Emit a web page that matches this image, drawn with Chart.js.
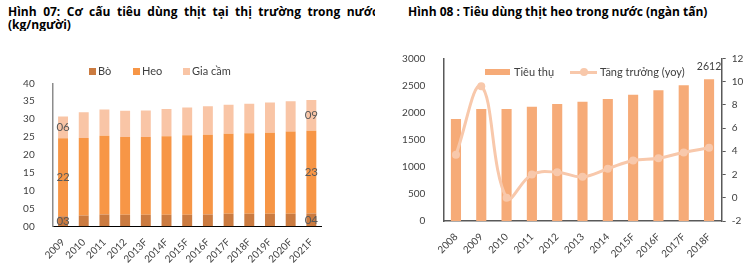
<!DOCTYPE html>
<html>
<head>
<meta charset="utf-8">
<script src="https://cdn.jsdelivr.net/npm/chart.js@4.4.1/dist/chart.umd.min.js"></script>
<style>
body { margin: 0; width: 751px; height: 269px; background: #fff; position: relative; overflow: hidden; font-family: 'Open Sans', sans-serif; }
.title { position: absolute; font-weight: bold; font-size: 12px; line-height: 13px; color: #000; white-space: nowrap; }
#t1 { left: 8px; top: 5px; width: 367px; overflow: hidden; word-spacing: 3.4px; }
#t2 { left: 408px; top: 5px; }
canvas { position: absolute; }
#c1 { left: 0; top: 60px; }
#c2 { left: 375px; top: 40px; }
.lg { position: absolute; font-family: Lato, sans-serif; font-size: 11px; line-height: 14px; color: #404040; white-space: nowrap; }
.sw { position: absolute; }
</style>
</head>
<body>
<div class="title" id="t1">Hình 07: Cơ cấu tiêu dùng thịt tại thị trường trong nước<br>(kg/người)</div>
<div class="title" id="t2">Hình 08 : Tiêu dùng thịt heo trong nước (ngàn tấn)</div>

<canvas id="c1" width="375" height="209"></canvas>
<canvas id="c2" width="376" height="229"></canvas>

<!-- legend hinh 07 -->
<div class="sw" style="left:89px;top:68px;width:7px;height:7px;background:#cb7b40"></div>
<div class="lg" style="left:98px;top:64px">Bò</div>
<div class="sw" style="left:133px;top:68px;width:7px;height:7px;background:#f79646"></div>
<div class="lg" style="left:142px;top:64px">Heo</div>
<div class="sw" style="left:183px;top:68px;width:7px;height:7px;background:#f9c5a6"></div>
<div class="lg" style="left:192px;top:64px">Gia cầm</div>

<!-- legend hinh 08 -->
<div class="sw" style="left:485px;top:69px;width:25px;height:6px;background:#f6ab78"></div>
<div class="lg" style="left:514px;top:65px">Tiêu thụ</div>
<div class="sw" style="left:570px;top:70.5px;width:27px;height:3px;background:#f8c8ab"></div>
<div class="sw" style="left:579.5px;top:68px;width:8px;height:8px;border-radius:50%;background:#f8c8ab"></div>
<div class="lg" style="left:600px;top:65px">Tăng trưởng (yoy)</div>

<script>
Chart.defaults.font.family = 'Lato'
Chart.defaults.font.size = 10
Chart.defaults.color = '#404040'

// Hinh 07
const nam1 = ['2009', '2010', '2011', '2012', '2013F', '2014F', '2015F', '2016F', '2017F', '2018F', '2019F', '2020F', '2021F']
const bo = [2.8, 3.0, 3.3, 3.2, 3.2, 3.2, 3.2, 3.3, 3.5, 3.5, 3.5, 3.5, 3.6]
const heo = [21.8, 21.7, 22.0, 21.8, 21.8, 22.0, 22.3, 22.3, 22.4, 22.5, 22.7, 23.0, 23.1]
const giaCam = [6.1, 7.2, 7.4, 7.3, 7.4, 7.6, 7.7, 8.0, 8.1, 8.3, 8.4, 8.5, 8.6]
const nhanCot = [0, 12]   // cot co nhan so lieu

// Hinh 08
const nam2 = ['2008', '2009', '2010', '2011', '2012', '2013', '2014', '2015F', '2016F', '2017F', '2018F']
const tieuThu = [1880, 2065, 2065, 2108, 2157, 2200, 2250, 2329, 2410, 2502, 2612]
const tangTruong = [3.7, 9.6, 0.0, 2.0, 2.2, 1.8, 2.5, 3.2, 3.4, 3.9, 4.3]

const pad2 = v => String(Math.round(v)).padStart(2, '0')

const nhanPlugin = {
    id: 'nhan',
    afterDatasetsDraw(chart) {
        const ctx = chart.ctx
        ctx.save()
        ctx.font = '11.5px Lato'
        ctx.fillStyle = '#595959'
        ctx.textAlign = 'center'
        ctx.textBaseline = 'middle'
        chart.data.datasets.forEach((ds, d) => {
            const meta = chart.getDatasetMeta(d)
            nhanCot.forEach(i => {
                const el = meta.data[i]
                ctx.fillText(pad2(ds.data[i]), el.x, (el.y + el.base) / 2)
            })
        })
        ctx.restore()
    }
}

new Chart(document.getElementById('c1'), {
    type: 'bar',
    data: {
        labels: nam1,
        datasets: [
            { label: 'Bò', data: bo, backgroundColor: '#cb7b40' },
            { label: 'Heo', data: heo, backgroundColor: '#f79646' },
            { label: 'Gia cầm', data: giaCam, backgroundColor: '#f9c5a6' }
        ]
    },
    options: {
        responsive: false,
        animation: false,
        devicePixelRatio: 1,
        layout: { padding: { top: 23.3, right: 53.3, left: 0, bottom: 0 } },
        datasets: { bar: { categoryPercentage: 1, barPercentage: 0.48 } },
        plugins: { legend: { display: false }, tooltip: { enabled: false } },
        scales: {
            x: {
                stacked: true,
                grid: { display: false },
                border: { color: '#000', width: 1 },
                ticks: { minRotation: 45, maxRotation: 45, autoSkip: false, padding: 2 },
                afterFit: s => { s.height = 42.7 }
            },
            y: {
                stacked: true,
                min: 0, max: 40,
                grid: { display: false },
                border: { color: '#8c8c8c', width: 1.5 },
                ticks: { stepSize: 5, padding: 10, callback: v => pad2(v) },
                afterFit: s => { s.width = 52.7 }
            }
        }
    },
    plugins: [nhanPlugin]
})

const nhanCuoi = {
    id: 'nhanCuoi',
    afterDatasetsDraw(chart) {
        const meta = chart.getDatasetMeta(1)
        const i = tieuThu.length - 1
        const el = meta.data[i]
        const ctx = chart.ctx
        ctx.save()
        ctx.font = '10.5px Lato'
        ctx.fillStyle = '#404040'
        ctx.textAlign = 'center'
        ctx.textBaseline = 'alphabetic'
        ctx.fillText(String(tieuThu[i]), el.x, el.y - 9)
        ctx.restore()
    }
}

new Chart(document.getElementById('c2'), {
    type: 'bar',
    data: {
        labels: nam2,
        datasets: [
            {
                type: 'line', label: 'Tăng trưởng (yoy)', data: tangTruong, yAxisID: 'y1', order: 0,
                borderColor: '#f8c8ab', borderWidth: 3, tension: 0.4,
                pointRadius: 4, pointBackgroundColor: '#f8c8ab', pointBorderWidth: 0
            },
            {
                label: 'Tiêu thụ', data: tieuThu, yAxisID: 'y', order: 1,
                backgroundColor: '#f6ab78', categoryPercentage: 1, barPercentage: 0.4
            }
        ]
    },
    options: {
        responsive: false,
        animation: false,
        devicePixelRatio: 1,
        layout: { padding: { top: 18.3, right: 0, left: 0, bottom: 0 } },
        plugins: { legend: { display: false }, tooltip: { enabled: false } },
        scales: {
            x: {
                grid: { display: false },
                border: { color: '#595959', width: 1.5 },
                ticks: { minRotation: 45, maxRotation: 45, autoSkip: false, padding: 2 },
                afterFit: s => { s.height = 48 }
            },
            y: {
                position: 'left',
                min: 0, max: 3000,
                grid: { display: false },
                border: { color: '#595959', width: 1.5 },
                ticks: { stepSize: 500, padding: 10, callback: v => String(v) },
                afterFit: s => { s.width = 68.3 }
            },
            y1: {
                position: 'right',
                min: -2, max: 12,
                grid: { drawOnChartArea: false, color: '#595959', tickLength: 4 },
                border: { color: '#595959', width: 1.5 },
                ticks: { stepSize: 2, padding: 6, callback: v => String(v) },
                afterFit: s => { s.width = 29.3 }
            }
        }
    },
    plugins: [nhanCuoi]
})
</script>
</body>
</html>
